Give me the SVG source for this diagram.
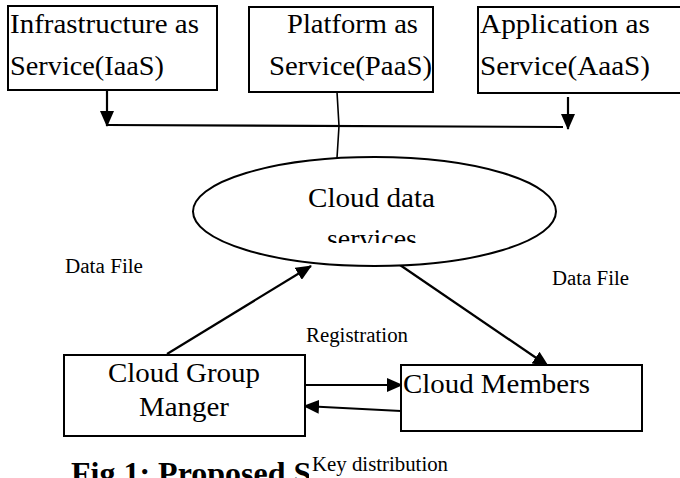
<svg xmlns="http://www.w3.org/2000/svg" width="680" height="478" viewBox="0 0 680 478">
<style>
  .box { fill: #fff; stroke: #000; stroke-width: 2; }
  text { font-family: "Liberation Serif", "DejaVu Serif", "Times New Roman", serif; fill: #000; }
  .big { font-size: 28px; }
  .mid { font-size: 27px; }
  .small { font-size: 20px; }
  .cap { font-size: 32px; font-weight: bold; }
  .ln { fill: none; stroke: #000; stroke-width: 2.2; }
  .thin { fill: none; stroke: #000; stroke-width: 1.6; }
</style>
<defs>
  <marker id="arr" markerUnits="userSpaceOnUse" markerWidth="16" markerHeight="14" refX="15" refY="7" orient="auto">
    <path d="M0,0 L16,7 L0,14 Z" fill="#000"/>
  </marker>
  <clipPath id="svcClip"><rect x="190" y="150" width="370" height="93"/></clipPath>
  <clipPath id="capClip"><rect x="0" y="440" width="309" height="40"/></clipPath>
</defs>
<rect width="680" height="478" fill="#fff"/>

<g id="connectors">
  <line class="ln" x1="107" y1="90" x2="107" y2="126" marker-end="url(#arr)"/>
  <line class="ln" x1="107" y1="125" x2="563" y2="127"/>
  <polyline class="thin" points="337,92 339,126 337,158"/>
  <line class="ln" x1="568" y1="97" x2="568" y2="129" marker-end="url(#arr)"/>
  <line class="ln" x1="167" y1="354" x2="311" y2="266" marker-end="url(#arr)"/>
  <line class="ln" x1="400" y1="265" x2="548" y2="366" marker-end="url(#arr)"/>
  <line class="ln" x1="305" y1="385" x2="402" y2="385" marker-end="url(#arr)"/>
  <line class="ln" x1="401" y1="411" x2="304" y2="406" marker-end="url(#arr)"/>
</g>

<g id="iaas">
  <rect class="box" x="8" y="6" width="209" height="84"/>
  <text class="big" x="10" y="33" textLength="189" lengthAdjust="spacingAndGlyphs">Infrastructure as</text>
  <text class="big" x="10" y="75" textLength="154" lengthAdjust="spacingAndGlyphs">Service(IaaS)</text>
</g>

<g id="paas">
  <rect class="box" x="249" y="7" width="184" height="85"/>
  <text class="big" x="287" y="33" textLength="131" lengthAdjust="spacingAndGlyphs">Platform as</text>
  <text class="big" x="269" y="75" textLength="163" lengthAdjust="spacingAndGlyphs">Service(PaaS)</text>
</g>

<g id="aaas">
  <rect class="box" x="478" y="7" width="215" height="86"/>
  <text class="big" x="480" y="33" textLength="170" lengthAdjust="spacingAndGlyphs">Application as</text>
  <text class="big" x="480" y="75" textLength="170" lengthAdjust="spacingAndGlyphs">Service(AaaS)</text>
</g>

<g id="cloud">
  <ellipse class="box" cx="374.5" cy="211.5" rx="181.5" ry="54.5"/>
  <text class="mid" x="308" y="207" textLength="127" lengthAdjust="spacingAndGlyphs">Cloud data</text>
  <text class="mid" x="327" y="248" textLength="90" lengthAdjust="spacingAndGlyphs" clip-path="url(#svcClip)">services</text>
</g>

<g id="labels">
  <text class="small" x="65" y="273" textLength="78" lengthAdjust="spacingAndGlyphs">Data File</text>
  <text class="small" x="552" y="285" textLength="77" lengthAdjust="spacingAndGlyphs">Data File</text>
  <text class="small" x="306" y="342" textLength="102" lengthAdjust="spacingAndGlyphs">Registration</text>
</g>

<g id="manager">
  <rect class="box" x="64" y="355" width="241" height="81"/>
  <text class="big" x="108" y="382" textLength="152" lengthAdjust="spacingAndGlyphs">Cloud Group</text>
  <text class="big" x="139" y="416" textLength="90" lengthAdjust="spacingAndGlyphs">Manger</text>
</g>

<g id="members">
  <rect class="box" x="401" y="365" width="241" height="66"/>
  <text class="big" x="403" y="393" textLength="187" lengthAdjust="spacingAndGlyphs">Cloud Members</text>
</g>

<g id="caption">
  <text class="cap" x="71" y="484" clip-path="url(#capClip)">Fig 1: Proposed S</text>
  <text class="small" x="312" y="471" textLength="136" lengthAdjust="spacingAndGlyphs">Key distribution</text>
</g>
</svg>
